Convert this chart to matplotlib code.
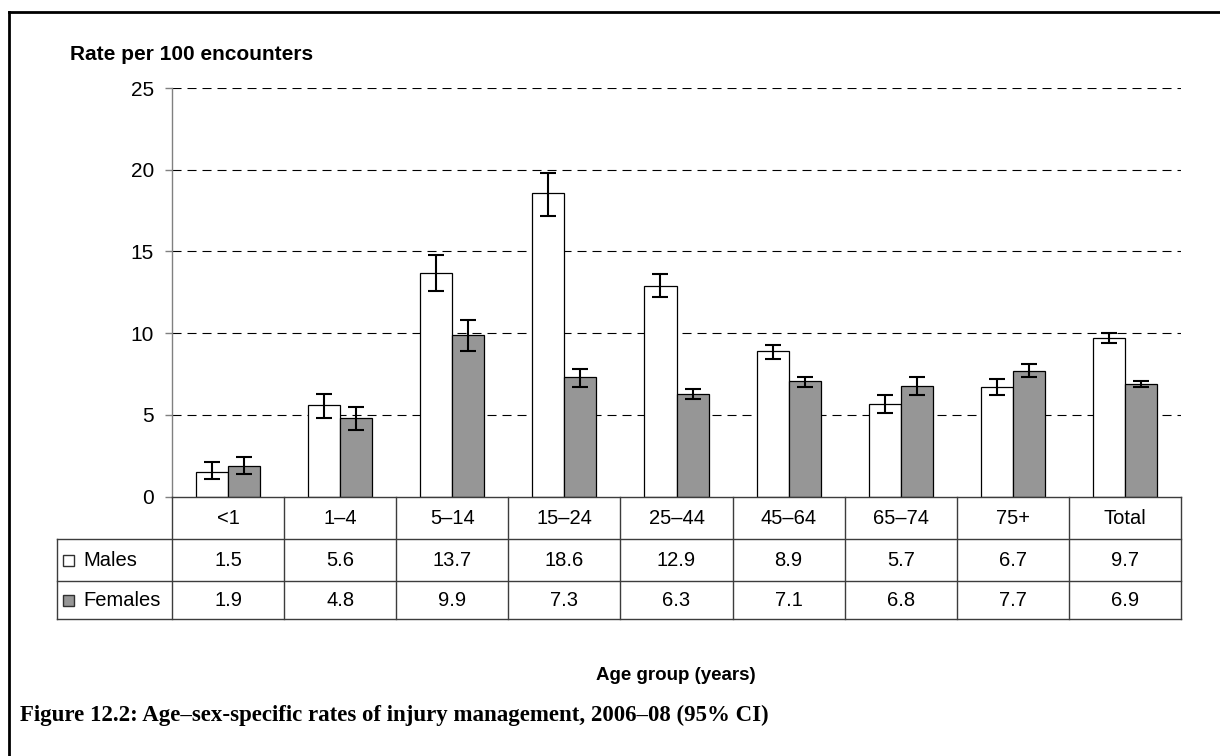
import matplotlib
matplotlib.use("Agg")
import matplotlib.pyplot as plt
from matplotlib.patches import Rectangle
from matplotlib.lines import Line2D
import numpy as np

plt.rcParams['font.family'] = ['Liberation Sans', 'DejaVu Sans']
plt.rcParams['lines.scale_dashes'] = False

# data
groups = ["<1", "1\u20134", "5\u201314", "15\u201324", "25\u201344", "45\u201364", "65\u201374", "75+", "Total"]
males = [1.5, 5.6, 13.7, 18.6, 12.9, 8.9, 5.7, 6.7, 9.7]
males_lo = [1.1, 4.8, 12.6, 17.2, 12.2, 8.4, 5.1, 6.2, 9.4]
males_hi = [2.1, 6.3, 14.8, 19.8, 13.6, 9.3, 6.2, 7.2, 10.0]
females = [1.9, 4.8, 9.9, 7.3, 6.3, 7.1, 6.8, 7.7, 6.9]
females_lo = [1.4, 4.1, 8.9, 6.7, 6.0, 6.7, 6.2, 7.3, 6.7]
females_hi = [2.4, 5.5, 10.8, 7.8, 6.6, 7.3, 7.3, 8.1, 7.1]

W, H = 1220, 756
fig = plt.figure(figsize=(W / 100, H / 100), dpi=100)

def px_box(x0, y0, x1, y1):
    # pixel box (top-left origin) -> figure fraction rect
    return [x0 / W, 1 - y1 / H, (x1 - x0) / W, (y1 - y0) / H]

ax = fig.add_axes(px_box(172, 88, 1181, 496.7))
tax = fig.add_axes(px_box(172, 497, 1181, 619), sharex=ax)

x = np.arange(len(groups))
bw = 0.286
err_m = [np.subtract(males, males_lo), np.subtract(males_hi, males)]
err_f = [np.subtract(females, females_lo), np.subtract(females_hi, females)]
ekw = dict(ecolor='black', elinewidth=1.5, capsize=6, capthick=1.5)

ax.bar(x - bw / 2, males, bw, color='white', edgecolor='black', linewidth=0.9,
       yerr=err_m, error_kw=ekw, zorder=3)
ax.bar(x + bw / 2, females, bw, color='#969696', edgecolor='black', linewidth=0.9,
       yerr=err_f, error_kw=ekw, zorder=3)

ax.set_xlim(-0.5, len(groups) - 0.5)
ax.set_ylim(0, 25)
ax.set_yticks([0, 5, 10, 15, 20, 25])
for v in [5, 10, 15, 20, 25]:
    ax.axhline(v, color='black', lw=0.8, ls=(0, (6.5, 4.3)), zorder=1)
for s in ['top', 'right', 'bottom']:
    ax.spines[s].set_visible(False)
ax.spines['left'].set_color('#808080')
ax.spines['left'].set_linewidth(1)
ax.tick_params(axis='y', length=5, width=1, color='#808080', labelsize=15, pad=8)
ax.tick_params(axis='x', bottom=False, labelbottom=False)
ax.set_facecolor('none')

fig.text(70 / W, 1 - 55 / H, "Rate per 100 encounters", fontsize=15,
         fontweight='bold', va='center', ha='left')

# data table under the bars
tax.set_ylim(122, 0)
tax.axis('off')
lc = '#3c3c3c'
rows = [0, 42, 84, 122]
xl = -0.5 - (172 - 57) / 112
xr = len(groups) - 0.5
tkw = dict(color=lc, lw=1, clip_on=False)
tax.add_line(Line2D([-0.5, xr], [rows[0], rows[0]], **tkw))
for r in rows[1:]:
    tax.add_line(Line2D([xl, xr], [r, r], **tkw))
for b in np.arange(-0.5, len(groups), 1.0):
    tax.add_line(Line2D([b, b], [rows[0], rows[3]], **tkw))
tax.add_line(Line2D([xl, xl], [rows[1], rows[3]], **tkw))

for i, g in enumerate(groups):
    tax.text(i, (rows[0] + rows[1]) / 2, g, ha='center', va='center', fontsize=14.5)
    tax.text(i, (rows[1] + rows[2]) / 2, "%.1f" % males[i], ha='center', va='center', fontsize=14.5)
    tax.text(i, (rows[2] + rows[3]) / 2, "%.1f" % females[i], ha='center', va='center', fontsize=14.5)

for (lab, fc), r0, r1 in zip([("Males", 'white'), ("Females", '#969696')], rows[1:3], rows[2:4]):
    yc = (r0 + r1) / 2
    fig.patches.append(Rectangle((63 / W, 1 - (yc + 497 + 5.5) / H), 11 / W, 11 / H,
                                 transform=fig.transFigure, facecolor=fc,
                                 edgecolor='#303030', lw=1))
    fig.text(83 / W, 1 - (yc + 497) / H, lab, fontsize=14.5, va='center', ha='left')

fig.text(676 / W, 1 - 676 / H, "Age group (years)", fontsize=13.5, fontweight='bold',
         ha='center', va='center')
fig.text(20 / W, 1 - 715 / H,
         "Figure 12.2: Age\u2013sex-specific rates of injury management, 2006\u201308 (95% CI)",
         fontsize=16.5, fontweight='bold', family=['Liberation Serif', 'DejaVu Serif'],
         ha='left', va='center')

# page frame, left and top edges
fig.add_artist(Line2D([9 / W, 9 / W], [0, 1 - 12 / H], color='black', lw=2,
                      transform=fig.transFigure))
fig.add_artist(Line2D([9 / W, 1], [1 - 12 / H, 1 - 12 / H], color='black', lw=2,
                      transform=fig.transFigure))

fig.savefig("out.png", dpi=100)
